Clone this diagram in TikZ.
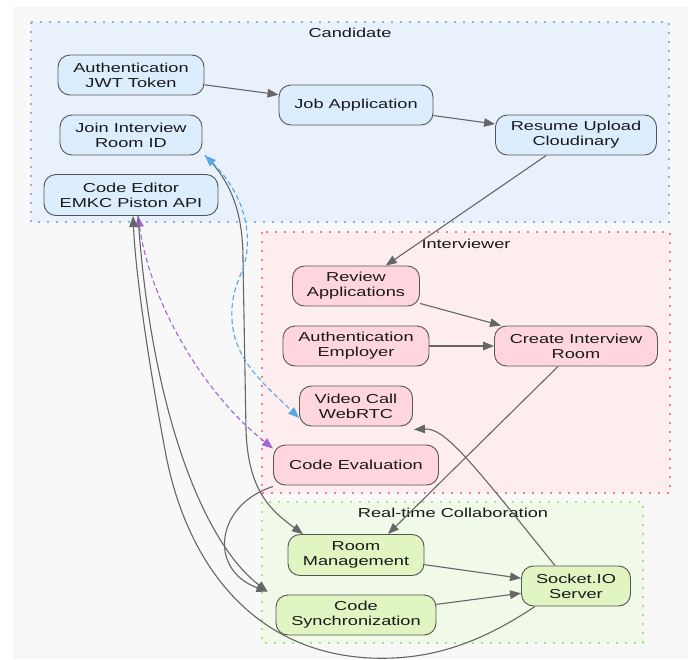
\documentclass[tikz,border=0pt]{standalone}
\usepackage{fontspec}
\setmainfont{Liberation Sans}[FakeStretch=1.4]
\usetikzlibrary{arrows.meta}
\definecolor{bg}{HTML}{F8F8F8}
\definecolor{canfill}{HTML}{E9F2FC}
\definecolor{canbord}{HTML}{86B6EA}
\definecolor{cannode}{HTML}{DCEDFE}
\definecolor{intfill}{HTML}{FDEDEF}
\definecolor{intbord}{HTML}{F07C96}
\definecolor{intnode}{HTML}{FFD6DD}
\definecolor{colfill}{HTML}{F1F9E8}
\definecolor{colbord}{HTML}{A9E08E}
\definecolor{colnode}{HTML}{E1F5C3}
\definecolor{nodebord}{HTML}{555555}
\definecolor{edgec}{HTML}{666666}
\definecolor{txt}{HTML}{1A1A1A}
\definecolor{blued}{HTML}{56A8E2}
\definecolor{purpd}{HTML}{A766D3}
\tikzset{
  box/.style={draw=nodebord, line width=0.9pt, rounded corners=12pt, align=center,
    inner sep=0pt, text=txt, font=\fontsize{13}{15}\selectfont},
  cand/.style={box, fill=cannode},
  intv/.style={box, fill=intnode},
  coll/.style={box, fill=colnode},
  cluster/.style={line width=1.2pt, dash pattern=on 1.6pt off 7.4pt},
  clabel/.style={text=txt, font=\fontsize{13}{15}\selectfont, inner sep=0pt},
  edge/.style={draw=edgec, line width=1.1pt, -{Triangle[length=11pt,width=8.5pt]}},
  bluearrow/.style={draw=blued, line width=1.1pt, dash pattern=on 5pt off 3pt,
    {Triangle[length=11pt,width=8.5pt]}-{Triangle[length=11pt,width=8.5pt]}},
  purparrow/.style={draw=purpd, line width=1.1pt, dash pattern=on 5pt off 3pt,
    {Triangle[length=11pt,width=8.5pt]}-{Triangle[length=11pt,width=8.5pt]}},
}
\begin{document}
\begin{tikzpicture}[x=1pt,y=-1pt]
\useasboundingbox (0,0) rectangle (688,659);
\fill[white] (0,0) rectangle (688,659);
\fill[bg] (13,7) rectangle (688,659);
% clusters
\draw[cluster, fill=canfill, draw=canbord] (31,22) rectangle (669,222);
\draw[cluster, fill=intfill, draw=intbord] (262,232) rectangle (670,493);
\draw[cluster, fill=colfill, draw=colbord] (262,502) rectangle (643,643);
\node[clabel] (lcand) at (350,33) {Candidate};
\node[clabel] (lint) at (466,244) {Interviewer};
\node[clabel] (lcol) at (453,513) {Real-time Collaboration};
% candidate nodes
\node[cand, minimum width=146pt, minimum height=40pt] (jwt) at (131,75) {Authentication\\JWT Token};
\node[cand, minimum width=154pt, minimum height=40pt] (job) at (356,105) {Job Application};
\node[cand, minimum width=142pt, minimum height=40pt] (join) at (131,135) {Join Interview\\Room ID};
\node[cand, minimum width=161pt, minimum height=40pt] (resume) at (576,135) {Resume Upload\\Cloudinary};
\node[cand, minimum width=174pt, minimum height=41pt] (editor) at (131,195) {Code Editor\\EMKC Piston API};
% interviewer nodes
\node[intv, minimum width=127pt, minimum height=40pt] (review) at (356,286) {Review\\Applications};
\node[intv, minimum width=146pt, minimum height=40pt] (authemp) at (356,346) {Authentication\\Employer};
\node[intv, minimum width=163pt, minimum height=40pt] (create) at (576,346) {Create Interview\\Room};
\node[intv, minimum width=113pt, minimum height=40pt] (video) at (356,406) {Video Call\\WebRTC};
\node[intv, minimum width=165pt, minimum height=40pt] (eval) at (356,465) {Code Evaluation};
% collaboration nodes
\node[coll, minimum width=136pt, minimum height=41pt] (room) at (356,555) {Room\\Management};
\node[coll, minimum width=160pt, minimum height=40pt] (sync) at (356,615) {Code\\Synchronization};
\node[coll, minimum width=109pt, minimum height=40pt] (socket) at (576,586) {Socket.IO\\Server};
% straight edges
\draw[edge] (jwt) -- (job);
\draw[edge] (job) -- (resume);
\draw[edge] (resume) -- (review);
\draw[edge] (review) -- (create);
\draw[edge] (authemp) -- (create);
\draw[edge] ([xshift=-18pt]create.south) -- ([xshift=32pt]room.north);
\draw[edge] (room) -- (socket);
\draw[edge] (sync) -- (socket);
% curved edges
\draw[edge] ([xshift=-21pt]socket.north) .. controls (470,460) and (445,428) .. ([xshift=1pt,yshift=-3pt]video.south east);
\draw[edge] ([xshift=74pt]join.south) .. controls (235,185) and (243,220) .. (243,260)
   -- (246,430) .. controls (248,490) and (270,510) .. ([xshift=-53pt]room.north);
\draw[bluearrow] ([xshift=74pt]join.south) .. controls (235,185) and (250,215) .. (247,250)
   .. controls (245,275) and (230,285) .. (232,320) .. controls (234,360) and (265,385) .. ([yshift=-12pt]video.west);
\draw[purparrow] ([xshift=7pt]editor.south) .. controls (150,300) and (200,390) .. ([yshift=-4pt]eval.north west);
\draw[edge] ([xshift=-83pt,yshift=-1pt]eval.south) .. controls (215,505) and (208,570) .. ([xshift=-8pt,yshift=3pt]sync.north west);
\draw[edge] ([xshift=7pt]editor.south) .. controls (150,400) and (200,540) .. ([xshift=-8pt,yshift=3pt]sync.north west);
\draw[edge] ([xshift=-41pt]socket.south) .. controls (470,650) and (420,660) .. (370,658)
   .. controls (250,652) and (185,560) .. (165,450) .. controls (150,370) and (136,280) .. ([xshift=2pt]editor.south);
\end{tikzpicture}
\end{document}
